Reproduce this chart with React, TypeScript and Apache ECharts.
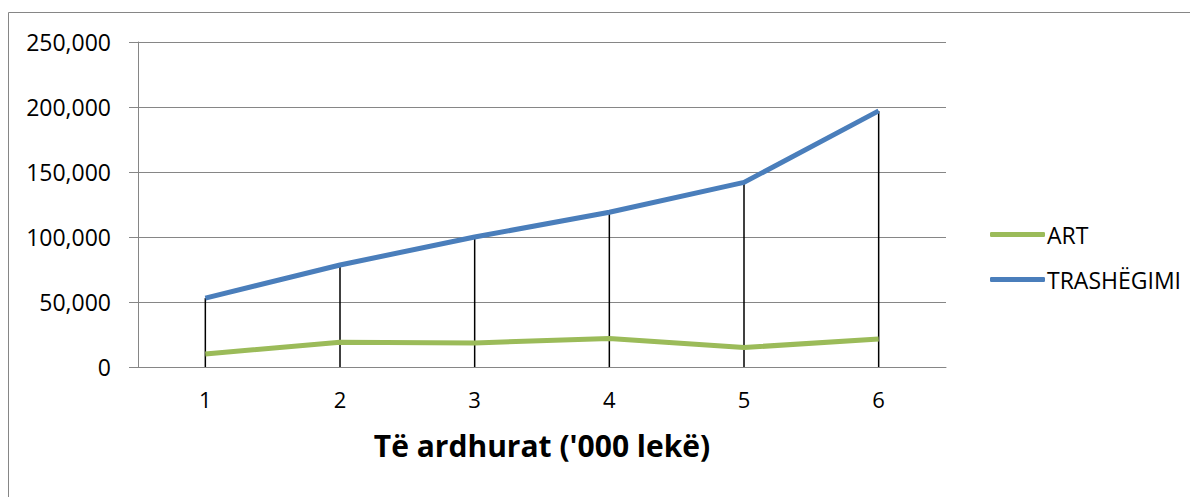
import React, { useEffect, useRef } from "react";
import * as echarts from "echarts";

const categories = ["1", "2", "3", "4", "5", "6"];
const artValues = [10000, 19000, 18500, 22000, 15000, 21500];
const trashegimiValues = [53000, 78500, 100000, 119000, 142000, 197000];
const seriesNames = ["ART", "TRASHËGIMI"];
const xTitle = "Të ardhurat ('000 lekë)";

export default function App() {
  const ref = useRef<HTMLDivElement>(null);
  useEffect(() => {
    if (!ref.current) return;
    const chart = echarts.init(ref.current, null, { renderer: "svg" });
    const font = "'Open Sans', sans-serif";
    chart.setOption({
      animation: false,
      backgroundColor: "#ffffff",
      textStyle: { fontFamily: font },
      graphic: [
        {
          type: "rect",
          shape: { x: 0.5, y: 4.5, width: 1400, height: 800 },
          style: { fill: "none", stroke: "#868686", lineWidth: 1 },
          silent: true,
        },
      ],
      grid: { left: 130, right: 252, top: 34, bottom: 130 },
      legend: {
        orient: "vertical",
        left: 977,
        top: 210,
        itemGap: 22,
        itemWidth: 55,
        itemHeight: 5,
        icon: "roundRect",
        data: seriesNames,
        textStyle: { fontFamily: font, fontSize: 23, color: "#000", padding: [0, 0, 0, -3] },
      },
      xAxis: {
        type: "category",
        data: categories,
        boundaryGap: true,
        axisLine: { show: true, lineStyle: { color: "#868686", width: 1 } },
        axisTick: { show: false },
        axisLabel: { fontFamily: font, fontSize: 22, color: "#000", margin: 21 },
        name: xTitle,
        nameLocation: "middle",
        nameGap: 63,
        nameTextStyle: { fontFamily: font, fontSize: 30, fontWeight: "bold", color: "#000" },
      },
      yAxis: {
        type: "value",
        min: 0,
        max: 250000,
        interval: 50000,
        axisLine: { show: true, lineStyle: { color: "#868686", width: 1 } },
        axisTick: { show: true, inside: false, length: 9, lineStyle: { color: "#868686" } },
        axisLabel: {
          fontFamily: font,
          fontSize: 23,
          color: "#000",
          margin: 27,
          formatter: (v: number) => v.toLocaleString("en-US"),
        },
        splitLine: { show: true, lineStyle: { color: "#868686", width: 1.2 } },
      },
      series: [
        {
          name: "drop",
          type: "bar",
          data: trashegimiValues,
          barWidth: 1.5,
          itemStyle: { color: "#000" },
          z: 1,
          silent: true,
        },
        {
          name: seriesNames[0],
          type: "line",
          data: artValues,
          symbol: "none",
          lineStyle: { color: "#9BBB59", width: 5 },
          itemStyle: { color: "#9BBB59" },
          z: 3,
        },
        {
          name: seriesNames[1],
          type: "line",
          data: trashegimiValues,
          symbol: "none",
          lineStyle: { color: "#4A7EBB", width: 5 },
          itemStyle: { color: "#4A7EBB" },
          z: 3,
        },
      ],
    });
    return () => chart.dispose();
  }, []);
  return <div ref={ref} style={{ width: 1190, height: 489 }} />;
}
